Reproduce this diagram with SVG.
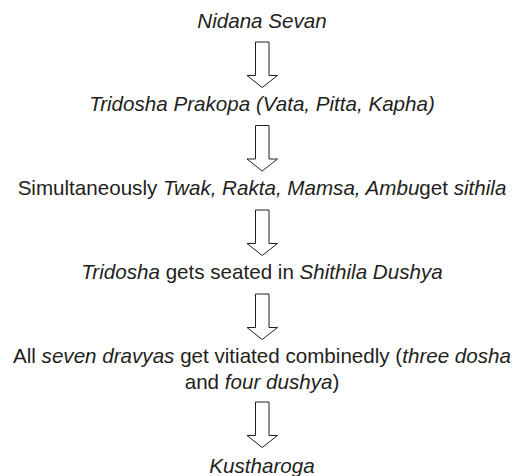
<svg xmlns="http://www.w3.org/2000/svg" width="517" height="476" viewBox="0 0 517 476">
<style>
text{font-family:"Liberation Sans",Arial,sans-serif;font-size:20.6px;fill:#231f20;text-anchor:middle}
.i{font-style:italic}
.arrow{fill:#fff;stroke:#231f20;stroke-width:1}
</style>
<defs>
<polygon id="arr" class="arrow" points="255.5,0 269,0 269,33.5 277.5,33.5 262.2,45.5 247,33.5 255.5,33.5"/>
</defs>
<rect width="517" height="476" fill="#fff"/>
<g id="connectors">
<use href="#arr" y="42"/>
<use href="#arr" y="125.5"/>
<use href="#arr" y="210"/>
<use href="#arr" y="294"/>
<use href="#arr" y="402"/>
</g>
<g id="n1"><text x="262" y="28.3" class="i">Nidana Sevan</text></g>
<g id="n2"><text x="262" y="111" class="i">Tridosha Prakopa (Vata, Pitta, Kapha)</text></g>
<g id="n3"><text x="262" y="195">Simultaneously <tspan class="i">Twak, Rakta, Mamsa, Ambu</tspan>get <tspan class="i">sithila</tspan></text></g>
<g id="n4"><text x="262" y="279.3"><tspan class="i">Tridosha</tspan> gets seated in <tspan class="i">Shithila Dushya</tspan></text></g>
<g id="n5"><text x="262" y="363.3">All <tspan class="i">seven dravyas</tspan> get vitiated combinedly (<tspan class="i">three dosha</tspan></text>
<text x="262" y="388.7">and <tspan class="i">four dushya</tspan>)</text></g>
<g id="n6"><text x="262" y="473" class="i">Kustharoga</text></g>
</svg>
